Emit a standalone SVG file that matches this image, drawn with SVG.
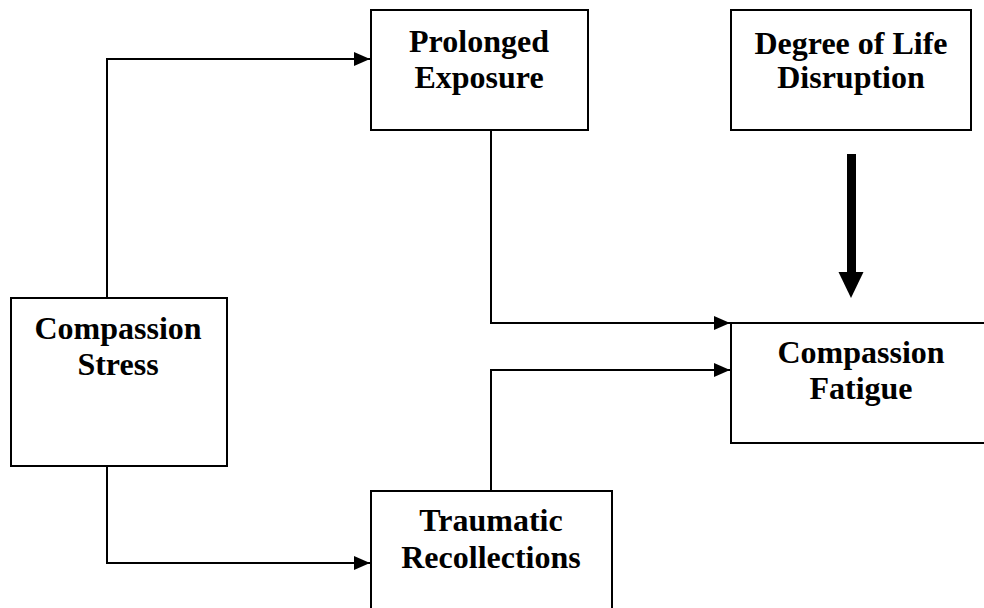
<svg xmlns="http://www.w3.org/2000/svg" width="984" height="608" viewBox="0 0 984 608">
  <style>
    .box { fill: #ffffff; stroke: #000000; stroke-width: 2; }
    .lbl { font-family: "Liberation Serif", "Times New Roman", serif; font-weight: bold; font-size: 32px; fill: #000000; text-anchor: middle; }
    .conn { fill: none; stroke: #000000; stroke-width: 2; }
  </style>
  <defs>
    <marker id="arr" markerUnits="userSpaceOnUse" markerWidth="16" markerHeight="14" refX="16" refY="7" orient="auto">
      <path d="M0,0 L16,7 L0,14 Z" fill="#000000"/>
    </marker>
  </defs>
  <rect width="984" height="608" fill="#ffffff"/>

  <g id="prolonged-exposure">
    <rect class="box" x="371" y="10" width="217" height="120"/>
    <text class="lbl" x="479" y="52">Prolonged</text>
    <text class="lbl" x="479" y="88">Exposure</text>
  </g>

  <g id="degree-of-life-disruption">
    <rect class="box" x="731" y="10" width="240" height="120"/>
    <text class="lbl" x="851" y="54">Degree of Life</text>
    <text class="lbl" x="851" y="88">Disruption</text>
  </g>

  <g id="compassion-stress">
    <rect class="box" x="11" y="298" width="216" height="168"/>
    <text class="lbl" x="118" y="339">Compassion</text>
    <text class="lbl" x="118" y="375">Stress</text>
  </g>

  <g id="compassion-fatigue">
    <rect class="box" x="731" y="323" width="260" height="120"/>
    <text class="lbl" x="861" y="363">Compassion</text>
    <text class="lbl" x="861" y="399">Fatigue</text>
  </g>

  <g id="traumatic-recollections">
    <rect class="box" x="371" y="491" width="241" height="130"/>
    <text class="lbl" x="491" y="531">Traumatic</text>
    <text class="lbl" x="491" y="568">Recollections</text>
  </g>

  <g id="connectors">
    <polyline class="conn" points="107,298 107,59 370,59" marker-end="url(#arr)"/>
    <polyline class="conn" points="107,466 107,563 370,563" marker-end="url(#arr)"/>
    <polyline class="conn" points="491,130 491,323 730,323" marker-end="url(#arr)"/>
    <polyline class="conn" points="491,491 491,370 730,370" marker-end="url(#arr)"/>
    <rect x="847" y="154" width="9" height="119" fill="#000000"/>
    <polygon points="838.5,272 863.5,272 851,298" fill="#000000"/>
  </g>
</svg>
